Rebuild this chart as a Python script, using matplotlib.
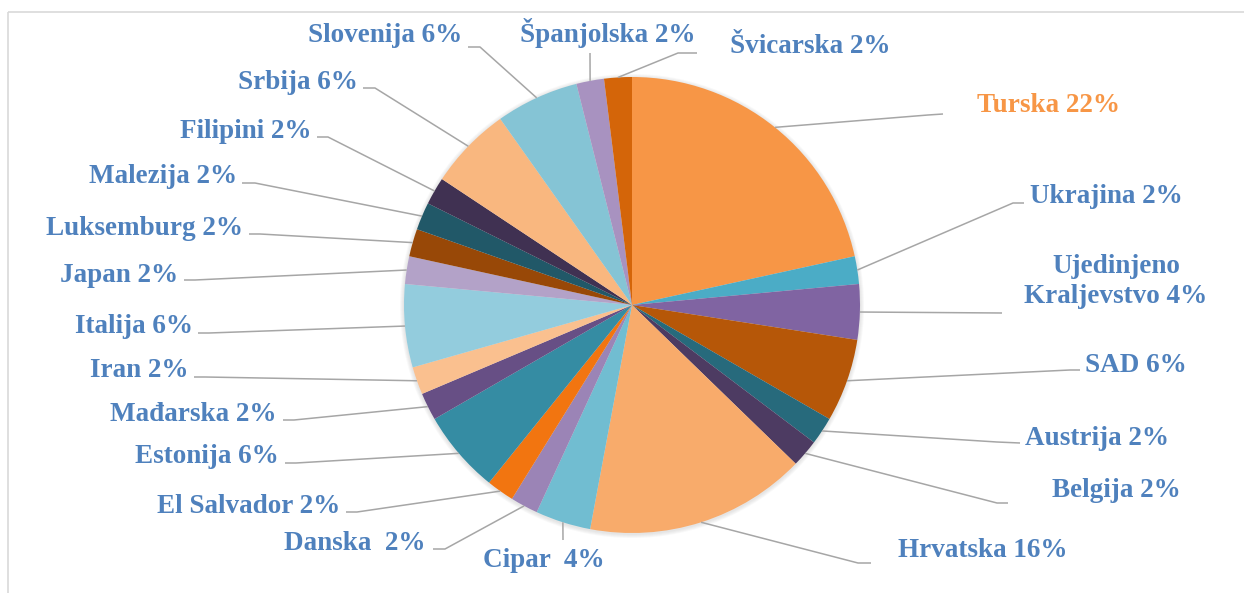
import matplotlib.pyplot as plt
from matplotlib.patches import Rectangle, Circle

# Data (clockwise from 12 o'clock)
countries = ['Turska', 'Ukrajina', 'Ujedinjeno Kraljevstvo', 'SAD', 'Austrija', 'Belgija',
             'Hrvatska', 'Cipar', 'Danska', 'El Salvador', 'Estonija', 'Mađarska', 'Iran',
             'Italija', 'Japan', 'Luksemburg', 'Malezija', 'Filipini', 'Srbija', 'Slovenija',
             'Španjolska', 'Švicarska']
percents = [22, 2, 4, 6, 2, 2, 16, 4, 2, 2, 6, 2, 2, 6, 2, 2, 2, 2, 6, 6, 2, 2]

colors = ['#F79646', '#4BACC6', '#8064A2', '#B65708', '#276A7C', '#4D3B62',
          '#F8AB6B', '#71BDD1', '#9B84B6', '#F27510', '#358CA3', '#674F85', '#FAC08F',
          '#93CCDD', '#B3A2C8', '#984807', '#215868', '#403152', '#F9B77F', '#85C4D5',
          '#A892C0', '#D46509']

label_text = {
    'Danska': 'Danska  2%',
    'Cipar': 'Cipar  4%',
}

# label layout in pixel coords: text x, baseline y, alignment, leader path after the wedge edge
layout = {
    'Turska': (977, 112, 'left', [(928, 115), (943, 114)]),
    'Ukrajina': (1030, 203, 'left', [(1013, 203), (1024, 203)]),
    'Ujedinjeno Kraljevstvo': (1116, 303, 'center', [(1002, 313)]),
    'SAD': (1085, 372, 'left', [(1070, 370), (1080, 370)]),
    'Austrija': (1025, 445, 'left', [(997, 442), (1020, 443)]),
    'Belgija': (1052, 497, 'left', [(997, 503), (1008, 503)]),
    'Hrvatska': (898, 557, 'left', [(858, 563), (871, 563)]),
    'Cipar': (483, 567, 'left', [(563, 540)]),
    'Danska': (425, 550, 'right', [(445, 549), (433, 549)]),
    'El Salvador': (340, 513, 'right', [(357, 512), (346, 512)]),
    'Estonija': (279, 463, 'right', [(296, 463), (285, 463)]),
    'Mađarska': (277, 421, 'right', [(294, 420), (283, 420)]),
    'Iran': (189, 377, 'right', [(205, 377), (194, 377)]),
    'Italija': (193, 333, 'right', [(209, 333), (198, 333)]),
    'Japan': (178, 282, 'right', [(195, 280), (184, 280)]),
    'Luksemburg': (243, 235, 'right', [(260, 234), (249, 234)]),
    'Malezija': (237, 183, 'right', [(255, 183), (242, 183)]),
    'Filipini': (312, 138, 'right', [(328, 137), (317, 137)]),
    'Srbija': (358, 89, 'right', [(375, 88), (363, 88)]),
    'Slovenija': (462, 42, 'right', [(480, 47), (468, 47)]),
    'Španjolska': (608, 42, 'center', [(590, 53)]),
    'Švicarska': (730, 53, 'left', [(678, 53), (697, 53)]),
}

W, H = 1244, 593
cx, cy, r = 632, 305, 228
blue = '#4F81BD'
line_col = '#A6A6A6'
fs = 19.5

fig = plt.figure(figsize=(W / 100, H / 100), dpi=100)
ax = fig.add_axes([0, 0, 1, 1])

# soft shadow behind the pie
for k in range(1, 5):
    ax.add_patch(Circle((cx, cy + 1), r + k, color='#808080', alpha=0.05, lw=0, zorder=0))

# y axis is flipped (pixel coords), so counterclock=True turns clockwise on screen
wedges, _ = ax.pie(percents, colors=colors, startangle=-90, counterclock=True,
                   center=(cx, cy), radius=r, frame=False,
                   wedgeprops=dict(linewidth=0))

import numpy as np
for w, name, pct in zip(wedges, countries, percents):
    mid = np.deg2rad((w.theta1 + w.theta2) / 2)
    ax_x, ax_y = cx + r * np.cos(mid), cy + r * np.sin(mid)
    tx, ty, ha, path = layout[name]
    xs = [ax_x] + [p[0] for p in path]
    ys = [ax_y] + [p[1] for p in path]
    ax.plot(xs, ys, color=line_col, lw=1.1, zorder=1, solid_capstyle='butt')
    col = '#F79646' if name == 'Turska' else blue
    if name == 'Ujedinjeno Kraljevstvo':
        ax.text(tx, 273, 'Ujedinjeno', ha='center', va='baseline', color=col,
                fontsize=fs, fontweight='bold', family='Liberation Serif')
        ax.text(tx, ty, 'Kraljevstvo %d%%' % pct, ha='center', va='baseline', color=col,
                fontsize=fs, fontweight='bold', family='Liberation Serif')
    else:
        txt = label_text.get(name, '%s %d%%' % (name, pct))
        ax.text(tx, ty, txt, ha=ha, va='baseline', color=col,
                fontsize=fs, fontweight='bold', family='Liberation Serif')

# chart frame
ax.add_patch(Rectangle((8, 12), W + 50, H + 50, fill=False, edgecolor='#D9D9D9', lw=1.2))

ax.set_xlim(0, W)
ax.set_ylim(H, 0)
ax.set_aspect('auto')
ax.axis('off')

fig.savefig('out.png', dpi=100, facecolor='white')
